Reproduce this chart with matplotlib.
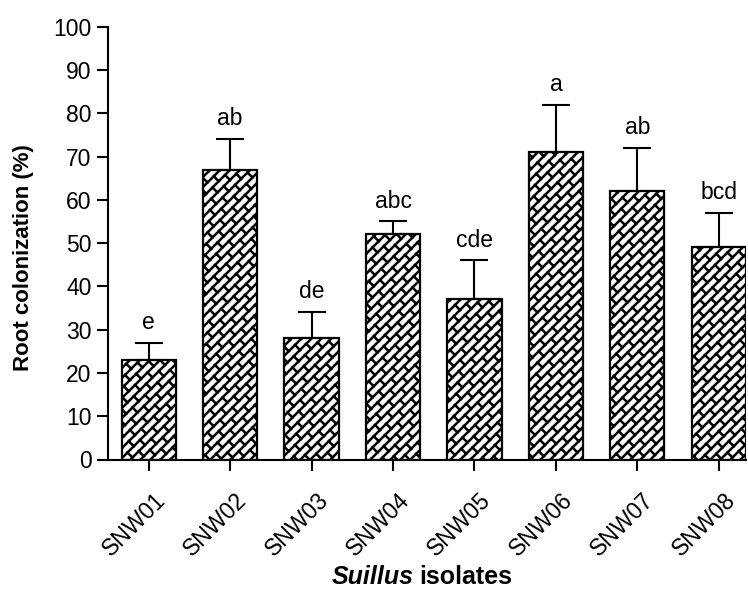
import warnings
import numpy as np
import matplotlib
matplotlib.use('Agg')
import matplotlib.pyplot as plt
import matplotlib.hatch as mhatch
from matplotlib.path import Path
from matplotlib.transforms import ScaledTranslation

isolates = ['SNW01', 'SNW02', 'SNW03', 'SNW04', 'SNW05', 'SNW06', 'SNW07', 'SNW08']
colonization = [23, 67, 28, 52, 37, 71, 62, 49]
sem = [4, 7, 6, 3, 9, 11, 10, 8]
groups = ['e', 'ab', 'de', 'abc', 'cde', 'a', 'ab', 'bcd']


class BrickHatch(mhatch.HatchPatternBase):
  # staggered bricks laid along direction (a, b); used when 'b' is in the hatch string
  a, b = 1, 1
  rows = 10
  step = 0.25

  def __init__(self, hatch, density):
    self.segments = self._build() if 'b' in hatch else []
    self.num_vertices = 2 * len(self.segments)

  def _xy(self, u, v):
    r2 = self.a ** 2 + self.b ** 2
    return ((self.a * u + self.b * v) / r2, (self.b * u - self.a * v) / r2)

  def _build(self):
    a, b, n, L = self.a, self.b, self.rows, self.step
    span = a + b
    segs = []
    for k in range(-a * n, b * n + 1):
      v = k / n
      segs.append((self._xy(-1, v), self._xy(span + 1, v)))
    for k in range(-a * n, b * n):
      v0, v1 = k / n, (k + 1) / n
      off = 0.5 * (k % 2)
      for m in range(-2, int(span / L) + 3):
        u = (m + off) * L
        segs.append((self._xy(u, v0), self._xy(u, v1)))
    return segs

  def set_vertices_and_codes(self, vertices, codes):
    vertices[:] = np.array(self.segments).reshape(-1, 2)
    codes[0::2] = Path.MOVETO
    codes[1::2] = Path.LINETO


mhatch._hatch_types.append(BrickHatch)

plt.rcParams['font.family'] = ['Liberation Sans', 'DejaVu Sans']
plt.rcParams['hatch.linewidth'] = 1.8

fig = plt.figure(figsize=(7.48, 5.9), dpi=100)
ax = fig.add_axes([107.5 / 748, 1 - 459.5 / 590, (746 - 107.5) / 748, (459.5 - 26.7) / 590])

x = np.arange(len(isolates))
with warnings.catch_warnings():
  warnings.simplefilter('ignore')
  ax.bar(x, colonization, width=0.667, color='white', edgecolor='black',
         linewidth=1.6, hatch='b', zorder=2)
ax.errorbar(x, colonization, yerr=[np.zeros(len(sem)), sem], fmt='none',
            ecolor='black', elinewidth=1.5, capsize=10, capthick=1.5, zorder=3)

for i in range(len(x)):
  ax.text(x[i], colonization[i] + sem[i] + 3.2, groups[i], ha='center',
          va='baseline', fontsize=16.5)

ax.set_xlim(-0.507, 7.335)
ax.set_ylim(0, 100)
ax.set_yticks(np.arange(0, 101, 10))
ax.set_xticks(x)
ax.set_xticklabels(isolates, rotation=45, ha='right', va='top', rotation_mode='anchor')

for side in ['top', 'right']:
  ax.spines[side].set_visible(False)
for side in ['left', 'bottom']:
  ax.spines[side].set_linewidth(1.5)
ax.tick_params(axis='both', direction='out', length=8, width=1.5, labelsize=16.5)
ax.tick_params(axis='y', pad=3.5)
ax.tick_params(axis='x', pad=13)

shift = ScaledTranslation(0.05, 0, fig.dpi_scale_trans)
for lbl in ax.get_xticklabels():
  lbl.set_transform(lbl.get_transform() + shift)

fig.text(24 / 748, 1 - 371 / 590, 'Root colonization (%)', rotation=90, ha='center',
         va='bottom', fontsize=16, fontweight='bold')
fig.text(414 / 748, 1 - 577 / 590, 'Suillus', ha='right', va='center', fontsize=18,
         fontweight='bold', fontstyle='italic')
fig.text(419 / 748, 1 - 577 / 590, 'isolates', ha='left', va='center', fontsize=18,
         fontweight='bold')

fig.savefig('out.png', dpi=100)
